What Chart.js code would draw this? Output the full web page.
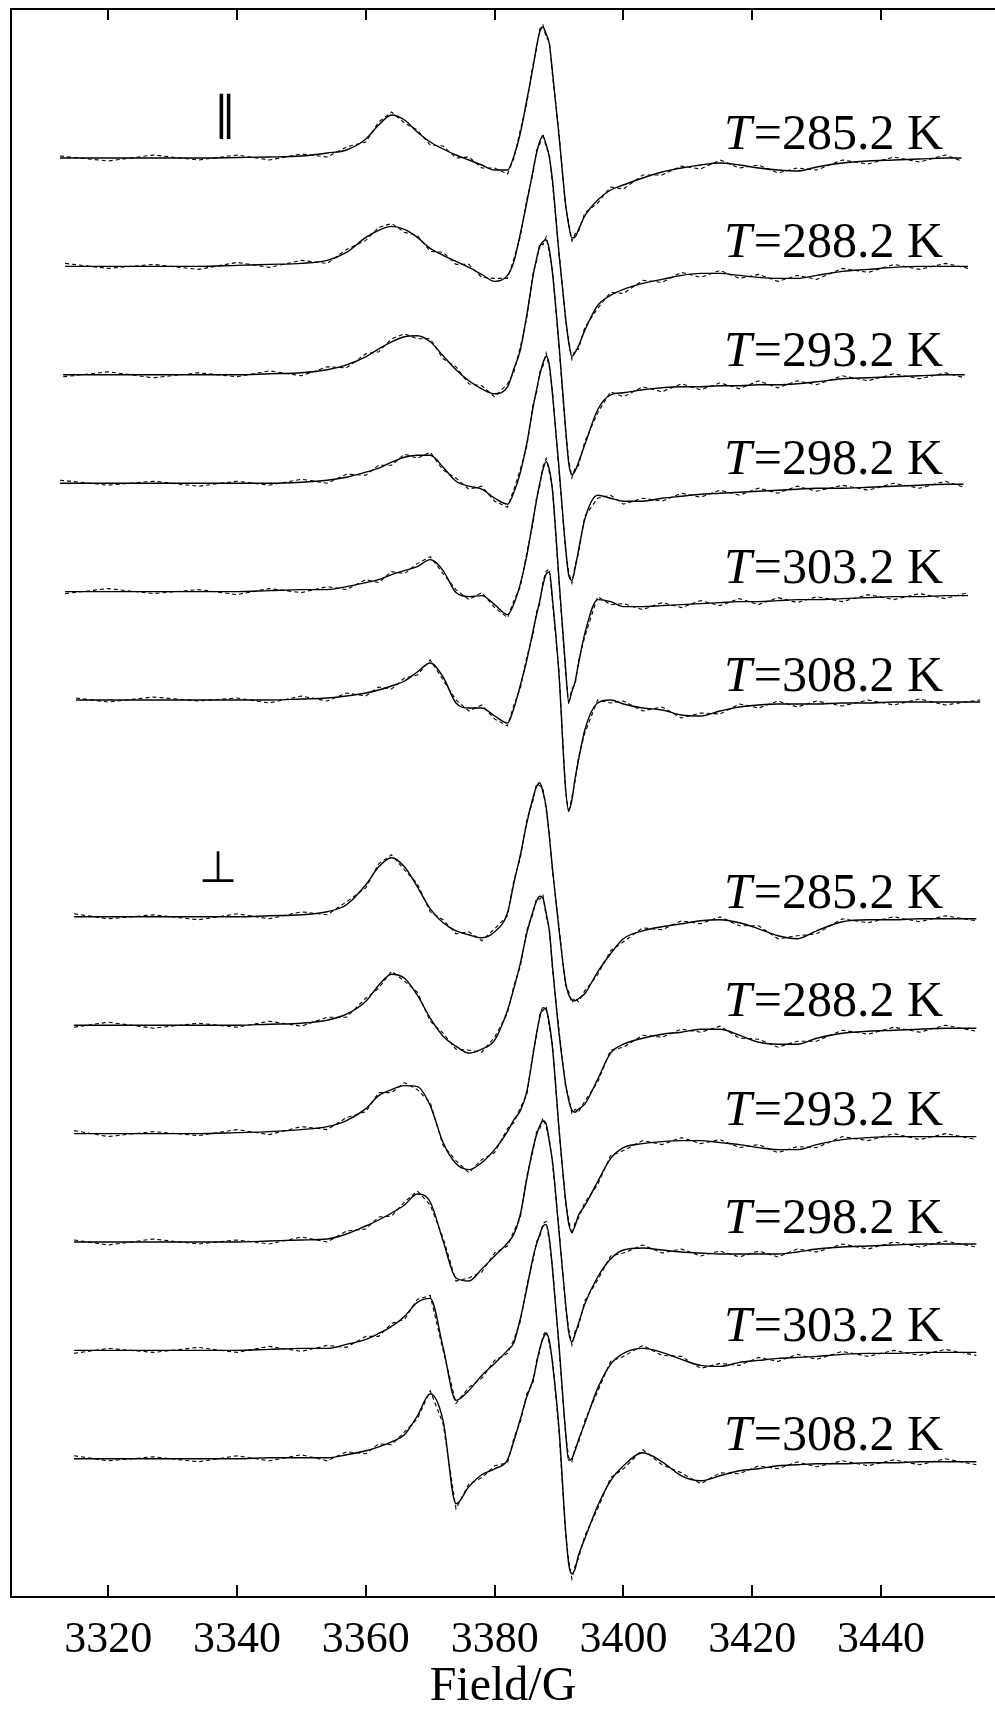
<!DOCTYPE html>
<html>
<head>
<meta charset="utf-8">
<script src="https://cdn.jsdelivr.net/npm/chart.js@4.4.1/dist/chart.umd.min.js"></script>
<style>
  html, body { margin: 0; padding: 0; background: #fff; overflow: hidden; }
  canvas { display: block; }
</style>
</head>
<body>
<canvas id="epr" width="995" height="1713"></canvas>
<script>
// Magnetic field grid (G) shared by every spectrum
const fields = [3313, 3320, 3327, 3334, 3340, 3345, 3350, 3354, 3357, 3360,
  3362, 3364, 3366, 3368, 3370, 3372, 3374, 3376, 3378, 3380,
  3382, 3383, 3384, 3385, 3386, 3386.5, 3387, 3387.5, 3388, 3388.5,
  3389, 3390, 3391, 3391.5, 3392, 3392.5, 3393, 3394, 3396, 3398,
  3400, 3403, 3406, 3409, 3412, 3415, 3418, 3421, 3424, 3427,
  3430, 3434, 3438, 3442, 3446, 3450, 3454];

const tickFields = [3320, 3340, 3360, 3380, 3400, 3420, 3440];
const temps = ["285.2", "288.2", "293.2", "298.2", "303.2", "308.2"];

// where each sweep actually starts / stops (G)
const startField = [3312.5, 3313.3, 3313, 3312.5, 3313.3, 3315, 3314.7, 3314.7, 3314.7, 3314.7, 3314.7, 3314.7];
const endField = [3452.5, 3453.5, 3453, 3452.8, 3453.5, 3455.4, 3454.8, 3454.8, 3454.8, 3454.8, 3454.8, 3454.8];

// parallel orientation: simulated (fit) and measured (exp) derivative spectra
const parFit285 = [0,0,0,0,0.5,1,2,5,8,19, 33,43,38,26,16,9,3,-2,-7,-12, -12,2,25,58,92,111,126,131,124,114, 85,22,-45,-67,-80,-79,-72,-58,-42,-32, -27,-20,-14,-10,-7,-5,-7,-10,-12,-13, -9,-5,-3,-2,-1,0,0];
const parExp285 = [2,-3,3,-2,3,-2,4,1,11,16, 36,46,35,28,13,12,0,1,-10,-10, -16,0,28,55,95,109,129,133,121,116, 82,25,-48,-65,-83,-76,-74,-55,-45,-29, -31,-17,-17,-8,-11,-2,-10,-7,-15,-10, -12,-2,-6,1,-4,3,-3];
const parFit288 = [0,0,0,0,1,2,3,6,14,29, 36,40,37,29,18,11,5,-1,-8,-15, -9,5,33,64,97,113,125,130,122,109, 85,12,-50,-76,-90,-86,-80,-64,-39,-29, -23,-17,-13,-9,-7,-7,-9,-11,-12,-12, -9,-5,-3,-1,0,0,0];
const parExp288 = [3,-2,2,-3,4,-1,6,3,17,26, 39,43,34,31,15,14,2,2,-11,-12, -12,8,30,67,94,116,122,133,119,112, 82,15,-53,-73,-93,-83,-83,-61,-42,-26, -27,-14,-16,-6,-11,-4,-12,-8,-15,-9, -13,-2,-6,2,-3,3,-2];
const parFit293 = [0,0,0,0,0,1,2,5,10,18, 26,33,38,39,33,19,5,-6,-14,-19, -12,6,25,60,100,116,128,133,135,125, 101,30,-52,-88,-100,-96,-88,-70,-35,-20, -18,-15,-13,-12,-12,-11,-11,-10,-10,-9, -7,-4,-3,-2,-1,0,0];
const parExp293 = [-2,3,-3,2,-2,4,-1,8,7,21, 23,36,41,36,36,16,8,-9,-11,-22, -9,3,28,57,103,113,131,130,138,122, 104,27,-55,-85,-103,-93,-91,-67,-38,-17, -22,-12,-17,-9,-15,-8,-14,-6,-13,-6, -10,-1,-6,1,-4,2,-3];
const parFit298 = [0,0,0,0,0,0,1,3,6,11, 15,21,26,28,28,16,2,-3,-6,-15, -21,-9,11,40,77,93,108,120,127,118, 88,15,-63,-92,-97,-85,-68,-36,-12,-15, -18,-18,-15,-13,-11,-10,-9,-8,-7,-6, -5,-5,-4,-3,-2,-1,-1];
const parExp298 = [3,-2,2,-3,2,-2,4,0,9,8, 18,18,29,25,31,13,5,-6,-3,-18, -24,-6,14,37,80,90,111,117,130,115, 91,12,-66,-89,-100,-82,-71,-33,-15,-12, -21,-15,-18,-10,-14,-7,-12,-5,-10,-3, -8,-2,-7,0,-5,2,-4];
const parFit303 = [0,0,0,0,0,1,2,2,5,9, 12,17,21,25,32,21,-1,-5,-4,-13, -23,-12,8,36,73,91,108,122,130,122, 100,12,-75,-110,-100,-90,-73,-42,-8,-10, -15,-15,-14,-13,-12,-11,-10,-10,-9,-8, -8,-7,-6,-5,-5,-4,-4];
const parExp303 = [-2,3,-2,2,-3,3,-1,5,2,12, 9,20,18,28,35,18,2,-8,-1,-16, -26,-9,5,39,70,94,105,125,133,119, 103,9,-78,-113,-97,-93,-70,-45,-5,-13, -12,-18,-11,-16,-9,-14,-7,-13,-6,-11, -5,-10,-3,-8,-2,-7,-1];
const parFit308 = [0,0,0,0,0,0,1,2,4,7, 10,14,19,28,37,23,-3,-8,-8,-16, -23,-8,15,40,70,85,99,115,126,128, 100,25,-87,-110,-100,-78,-61,-30,-3,0, -4,-8,-10,-15,-16,-11,-7,-5,-4,-4, -4,-3,-3,-2,-2,-2,-2];
const parExp308 = [2,-2,3,-1,2,-3,4,-1,7,4, 13,11,22,25,40,20,0,-11,-5,-19, -26,-5,12,43,67,88,96,118,129,131, 97,28,-90,-113,-97,-81,-58,-33,0,-3, -1,-11,-7,-18,-13,-14,-4,-8,-1,-7, -1,-6,0,-5,1,-5,0];

// perpendicular orientation
const perpFit285 = [0,0,0,0,0,1,2,5,12,32, 50,59,50,30,8,-6,-14,-18,-21,-15, 4,34,62,94,120,130,134,125,110,80, 47,-13,-65,-78,-83,-84,-82,-77,-55,-37, -22,-14,-10,-7,-4,-3,-6,-12,-19,-22, -14,-5,-3,-3,-2,-2,-2];
const perpExp285 = [3,-2,2,-3,3,-2,5,2,15,29, 53,62,47,33,5,-3,-17,-15,-24,-12, 1,37,59,97,117,133,131,128,107,83, 44,-10,-68,-75,-86,-81,-85,-74,-58,-34, -25,-11,-13,-4,-7,0,-9,-9,-22,-19, -17,-2,-6,0,-5,1,-4];
const perpFit288 = [0,0,0,0,0,1,2,5,11,24, 40,51,47,30,7,-11,-21,-28,-24,-15, 15,37,62,92,115,124,129,127,112,94, 58,-8,-58,-75,-85,-87,-84,-79,-54,-28, -19,-13,-9,-7,-4,-4,-10,-17,-19,-19, -13,-8,-6,-5,-4,-3,-3];
const perpExp288 = [-2,3,-3,2,-2,4,-1,8,8,27, 37,54,44,33,4,-8,-24,-25,-27,-12, 12,40,59,95,112,127,126,130,109,97, 55,-5,-61,-72,-88,-84,-87,-76,-57,-25, -22,-10,-12,-4,-7,-1,-13,-14,-22,-16, -16,-5,-9,-2,-7,0,-6];
const perpFit293 = [0,0,0,0,1,2,4,7,13,25, 38,44,48,47,28,-9,-30,-36,-29,-16, 2,14,23,42,80,100,116,126,124,110, 85,5,-65,-90,-98,-92,-82,-72,-48,-25, -14,-10,-8,-7,-7,-9,-11,-14,-16,-16, -11,-6,-4,-3,-3,-3,-3];
const perpExp293 = [3,-3,2,-2,4,-1,7,4,16,22, 41,41,51,44,31,-12,-27,-39,-26,-19, 5,11,26,39,83,97,119,123,127,107, 88,2,-68,-87,-101,-89,-85,-69,-51,-22, -17,-7,-11,-4,-10,-6,-14,-11,-19,-13, -14,-3,-7,0,-6,0,-6];
const perpFit298 = [0,0,0,0,0,1,2,3,8,16, 22,29,37,48,40,1,-36,-39,-27,-14, -1,8,28,63,95,107,116,121,118,100, 80,10,-60,-90,-100,-92,-82,-62,-35,-17, -8,-6,-8,-10,-11,-12,-12,-12,-12,-10, -7,-5,-4,-3,-2,-2,-2];
const perpExp298 = [2,-3,3,-2,2,-2,5,0,11,13, 25,26,40,51,37,4,-39,-36,-30,-11, -4,11,25,66,92,110,113,124,115,103, 77,13,-63,-87,-103,-89,-85,-59,-38,-14, -11,-3,-11,-7,-14,-9,-15,-9,-15,-7, -10,-2,-7,0,-5,1,-5];
const perpFit303 = [0,0,0,0,0,1,2,2,6,11, 17,24,34,48,52,3,-50,-40,-25,-13, 0,8,32,62,94,106,116,124,126,112, 80,5,-80,-110,-108,-100,-90,-73,-38,-14, -3,2,-2,-9,-15,-16,-12,-10,-8,-7, -6,-4,-3,-3,-2,-2,-2];
const perpExp303 = [-3,2,-2,3,-2,4,-1,5,3,14, 14,27,31,51,55,0,-53,-37,-28,-10, -3,11,29,65,91,109,113,127,129,109, 83,2,-83,-107,-111,-97,-93,-70,-41,-11, -6,5,-5,-6,-18,-13,-15,-7,-11,-4, -9,-1,-6,0,-5,1,-5];
const perpFit308 = [0,0,0,0,0,1,1,1,4,8, 12,17,24,43,65,38,-45,-28,-16,-10, -1,18,40,62,80,95,110,120,125,118, 95,30,-70,-105,-115,-110,-97,-80,-47,-22, -7,6,-3,-17,-22,-17,-12,-10,-7,-6, -5,-5,-4,-4,-3,-3,-3];
const perpExp308 = [3,-2,2,-3,3,-2,4,-2,7,5, 15,14,27,40,68,35,-50,-25,-19,-7, -4,21,37,65,77,98,107,123,128,115, 98,27,-73,-102,-120,-107,-100,-77,-50,-19, -10,9,-6,-14,-25,-14,-15,-7,-10,-3, -8,-2,-7,-1,-6,0,-6];

const fits = [parFit285, parFit288, parFit293, parFit298, parFit303, parFit308,
  perpFit285, perpFit288, perpFit293, perpFit298, perpFit303, perpFit308];
const exps = [parExp285, parExp288, parExp293, parExp298, parExp303, parExp308,
  perpExp285, perpExp288, perpExp293, perpExp298, perpExp303, perpExp308];

// vertical stacking: one empty slot between the two groups
const slots = [0, 1, 2, 3, 4, 5, 7, 8, 9, 10, 11, 12];
const spacing = 108.4;

function toPoints(values, k) {
  const last = values.length - 1;
  return values.map((v, i) => ({
    x: i === 0 ? startField[k] : (i === last ? endField[k] : fields[i]),
    y: v - slots[k] * spacing
  }));
}

const datasets = [];
fits.forEach((fit, k) => {
  datasets.push({
    data: toPoints(exps[k], k),
    borderColor: '#000',
    borderWidth: 1.1,
    borderDash: [4, 3],
    pointRadius: 0,
    tension: 0
  });
  datasets.push({
    data: toPoints(fit, k),
    borderColor: '#000',
    borderWidth: 1.4,
    pointRadius: 0,
    cubicInterpolationMode: 'monotone'
  });
});

// inward tick marks, temperature labels and orientation symbols
const decorations = {
  id: 'decorations',
  afterDraw(chart) {
    const {ctx, chartArea: area, scales: {x, y}} = chart;
    ctx.save();
    ctx.setLineDash([]);
    ctx.strokeStyle = '#000';
    ctx.lineWidth = 2;
    ctx.beginPath();
    tickFields.forEach(v => {
      const px = Math.round(x.getPixelForValue(v));
      ctx.moveTo(px, area.bottom);
      ctx.lineTo(px, area.bottom - 12);
      ctx.moveTo(px, area.top);
      ctx.lineTo(px, area.top + 11);
    });
    ctx.stroke();

    ctx.fillStyle = '#000';
    ctx.textBaseline = 'alphabetic';
    ctx.textAlign = 'left';
    slots.forEach((slot, k) => {
      const yb = y.getPixelForValue(-slot * spacing) - 9;
      ctx.font = 'italic 50px "Liberation Serif"';
      ctx.fillText('T', 724, yb);
      const w = ctx.measureText('T').width;
      ctx.font = '50px "Liberation Serif"';
      ctx.fillText('=' + temps[k % 6] + ' K', 724 + w + 2, yb);
    });

    ctx.textAlign = 'center';
    ctx.font = '46px "DejaVu Sans"';
    ctx.fillText('\u2225', 225, y.getPixelForValue(0) - 29);
    ctx.font = '44px "DejaVu Sans"';
    ctx.fillText('\u22A5', 218, y.getPixelForValue(-7 * spacing) - 35);
    ctx.restore();
  }
};

new Chart(document.getElementById('epr').getContext('2d'), {
  type: 'line',
  data: { datasets: datasets },
  options: {
    responsive: false,
    animation: false,
    devicePixelRatio: 1,
    parsing: false,
    layout: { padding: 0 },
    plugins: { legend: { display: false }, tooltip: { enabled: false } },
    scales: {
      x: {
        type: 'linear',
        position: 'bottom',
        min: 3304.9,
        max: 3457.7,
        afterFit: s => { s.height = 116; },
        afterBuildTicks: s => { s.ticks = tickFields.map(v => ({ value: v })); },
        grid: { display: false },
        border: { display: true, color: '#000', width: 2 },
        ticks: {
          color: '#000',
          padding: 9,
          maxRotation: 0,
          callback: v => String(v),
          font: { family: '"Liberation Serif"', size: 44 }
        },
        title: {
          display: true,
          text: 'Field/G',
          color: '#000',
          padding: { top: 0, bottom: -3 },
          font: { family: '"Liberation Serif"', size: 48 }
        }
      },
      x2: {
        type: 'linear',
        position: 'top',
        min: 3304.9,
        max: 3457.7,
        afterFit: s => { s.height = 9; },
        grid: { display: false },
        border: { display: true, color: '#000', width: 2 },
        ticks: { display: false }
      },
      y: {
        type: 'linear',
        position: 'left',
        min: -1439,
        max: 149,
        afterFit: s => { s.width = 11; },
        grid: { display: false },
        border: { display: true, color: '#000', width: 2 },
        ticks: { display: false }
      }
    }
  },
  plugins: [decorations]
});
</script>
</body>
</html>
